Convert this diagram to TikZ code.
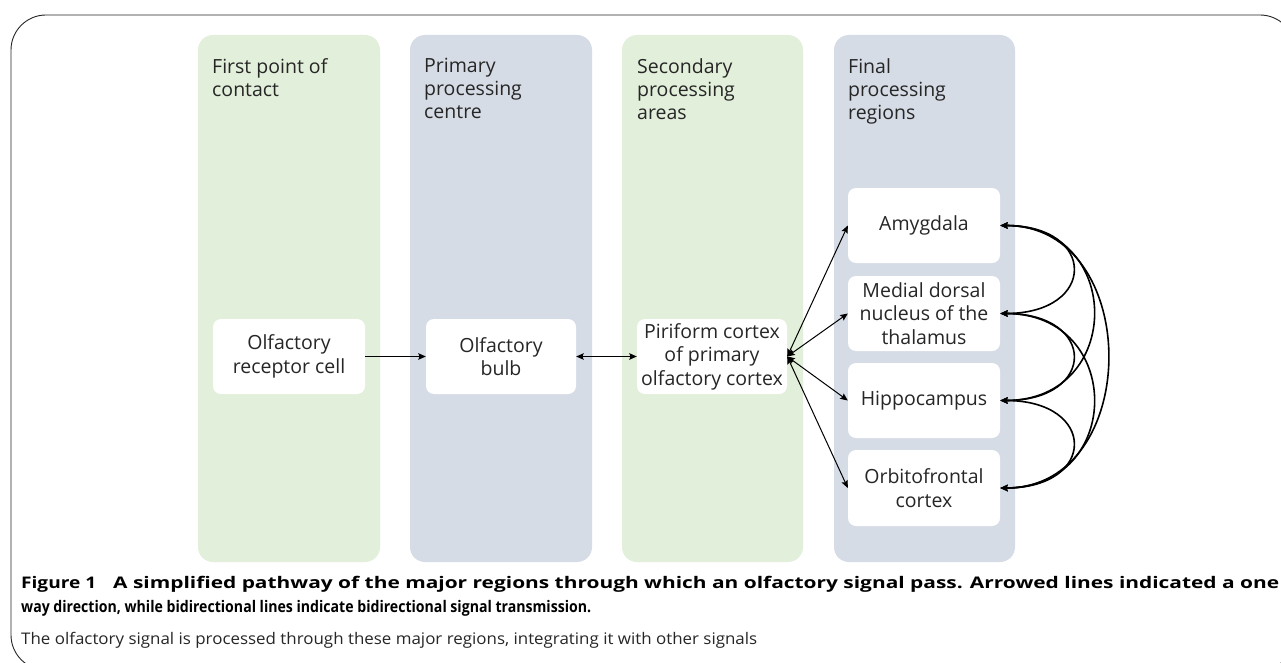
\documentclass[tikz,border=0pt]{standalone}
\usepackage{fontspec}
\usepackage{graphicx}
\setmainfont{Open Sans}
\usetikzlibrary{arrows.meta,calc}
\definecolor{colgreen}{HTML}{E2EFDA}
\definecolor{colblue}{HTML}{D6DCE5}
\definecolor{txt}{HTML}{262626}
\tikzset{
  framebox/.style={draw=black!85, line width=0.9pt, rounded corners=35pt},
  colgreenbox/.style={fill=colgreen, rounded corners=15pt},
  colbluebox/.style={fill=colblue, rounded corners=15pt},
  whitebox/.style={fill=white, rounded corners=8pt, inner sep=0pt, align=center,
    text=txt, font=\fontsize{19.5}{23.5}\selectfont, minimum height=75pt},
  heading/.style={anchor=north west, inner sep=0pt, align=left, text=txt,
    font=\fontsize{19.5}{23}\selectfont},
  tipst/.tip={Stealth[length=7.5pt,width=6.5pt,inset=1.2pt]},
  onearrow/.style={draw=black, line width=1pt, -tipst},
  biarrow/.style={draw=black, line width=1pt, tipst-tipst},
  bicurve/.style={draw=black, line width=1.6pt, tipst-tipst},
  captionbold/.style={anchor=base west, inner sep=0pt, text=black, font=\fontsize{16}{20}\selectfont\bfseries},
  captionreg/.style={anchor=base west, inner sep=0pt, text=txt, font=\fontsize{16}{20}\selectfont},
}
\begin{document}
\begin{tikzpicture}[x=1pt,y=-1pt]
\useasboundingbox (0,0) rectangle (1281,663);
\fill[white] (0,0) rectangle (1281,663);
\draw[framebox] (11,15) rectangle (1295,670);
% columns
\path[colgreenbox] (198,35) rectangle (380,562);
\path[colbluebox] (410,35) rectangle (592,562);
\path[colgreenbox] (622,35) rectangle (803,562);
\path[colbluebox] (834,35) rectangle (1015,562);
% headings
\node[heading] (h1) at (212,58) {First point of\\contact};
\node[heading] (h2) at (424,58) {Primary\\processing\\centre};
\node[heading] (h3) at (637,58) {Secondary\\processing\\areas};
\node[heading] (h4) at (848,58) {Final\\processing\\regions};
% boxes
\node[whitebox, minimum width=152pt] (rec) at (289,356.5) {Olfactory\\receptor cell};
\node[whitebox, minimum width=150pt] (bulb) at (501,356.5) {Olfactory\\bulb};
\node[whitebox, minimum width=150pt] (pir) at (712,356.5) {Piriform cortex\\of primary\\olfactory cortex};
\node[whitebox, minimum width=152pt] (amy) at (924,225.5) {Amygdala};
\node[whitebox, minimum width=152pt] (med) at (924,313.5) {Medial dorsal\\nucleus of the\\thalamus};
\node[whitebox, minimum width=152pt] (hip) at (924,400.5) {Hippocampus};
\node[whitebox, minimum width=152pt, minimum height=76pt] (orb) at (924,488) {Orbitofrontal\\cortex};
% connectors
\draw[onearrow] (rec) -- (bulb);
\draw[biarrow] (bulb) -- (pir);
\draw[biarrow] (pir.east) -- (amy.west);
\draw[biarrow] (pir.east) -- (med.west);
\draw[biarrow] (pir.east) -- (hip.west);
\draw[biarrow] (pir.east) -- (orb.west);
\draw[bicurve] (amy.east) .. controls ($(amy.east)+(97,0)$) and ($(med.east)+(97,0)$) .. (med.east);
\draw[bicurve] (med.east) .. controls ($(med.east)+(97,0)$) and ($(hip.east)+(97,0)$) .. (hip.east);
\draw[bicurve] (hip.east) .. controls ($(hip.east)+(97,0)$) and ($(orb.east)+(97,0)$) .. (orb.east);
\draw[bicurve] (amy.east) .. controls ($(amy.east)+(124,0)$) and ($(hip.east)+(124,0)$) .. (hip.east);
\draw[bicurve] (med.east) .. controls ($(med.east)+(124,0)$) and ($(orb.east)+(124,0)$) .. (orb.east);
\draw[bicurve] (amy.east) .. controls ($(amy.east)+(143,0)$) and ($(orb.east)+(143,0)$) .. (orb.east);
% caption
\node[captionbold] (c1a) at (21,588) {\resizebox{75pt}{\height}{Figure 1}};
\node[captionbold] (c1b) at (113,588) {\resizebox{1166pt}{\height}{A simplified pathway of the major regions through which an olfactory signal pass. Arrowed lines indicated a one}};
\node[captionbold] (c2) at (21,612) {\resizebox{570pt}{\height}{way direction, while bidirectional lines indicate bidirectional signal transmission.}};
\node[captionreg] (c3) at (21,644) {\resizebox{736pt}{\height}{The olfactory signal is processed through these major regions, integrating it with other signals}};
\end{tikzpicture}
\end{document}
